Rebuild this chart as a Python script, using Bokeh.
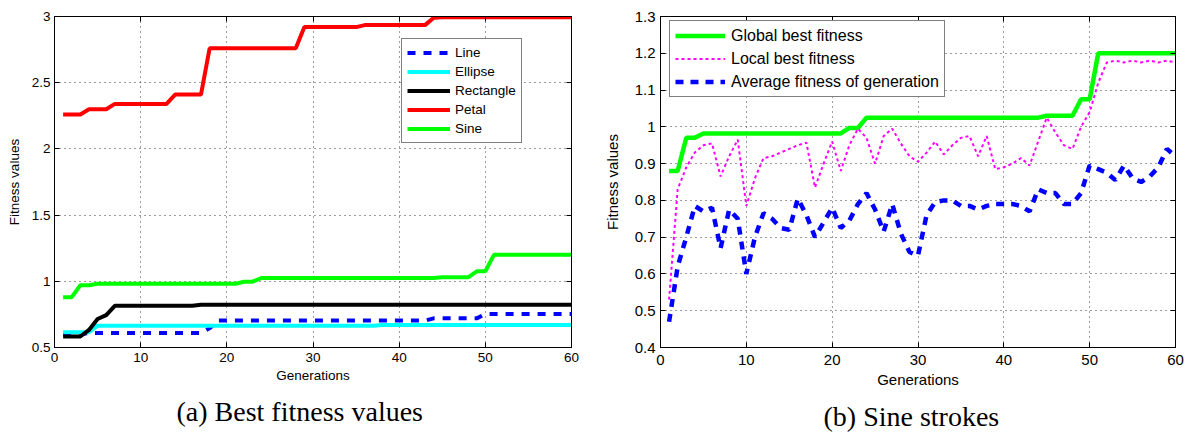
from bokeh.plotting import figure
from bokeh.models import Range1d, FixedTicker, LinearAxis, Title, CustomJSTickFormatter
from bokeh.layouts import row
from bokeh.embed import file_html
from bokeh.resources import INLINE

# ---------------- data ----------------
generations = list(range(1, 61))

x_ticks = [0, 10, 20, 30, 40, 50, 60]
x_labels = ["0", "10", "20", "30", "40", "50", "60"]

left_y_ticks = [0.5, 1, 1.5, 2, 2.5, 3]
left_y_labels = ["0.5", "1", "1.5", "2", "2.5", "3"]

right_y_ticks = [0.4, 0.5, 0.6, 0.7, 0.8, 0.9, 1.0, 1.1, 1.2, 1.3]
right_y_labels = ["0.4", "0.5", "0.6", "0.7", "0.8", "0.9", "1", "1.1", "1.2", "1.3"]

captions = ["(a) Best fitness values", "(b) Sine strokes"]

line_fit = [0.60, 0.60, 0.60, 0.61, 0.61, 0.61, 0.61, 0.61, 0.61, 0.61,
            0.61, 0.61, 0.61, 0.61, 0.61, 0.61, 0.61, 0.645, 0.703, 0.703,
            0.703, 0.703, 0.703, 0.703, 0.703, 0.703, 0.703, 0.703, 0.703, 0.703,
            0.703, 0.703, 0.703, 0.703, 0.703, 0.703, 0.703, 0.703, 0.703, 0.703,
            0.703, 0.703, 0.703, 0.72, 0.72, 0.72, 0.72, 0.72, 0.72, 0.753,
            0.753, 0.753, 0.753, 0.753, 0.753, 0.753, 0.753, 0.753, 0.753, 0.753]

ellipse_fit = [0.615, 0.615, 0.615, 0.615, 0.665, 0.665, 0.665, 0.665, 0.665, 0.665,
               0.665, 0.665, 0.665, 0.665, 0.665, 0.665, 0.665, 0.665, 0.665, 0.665,
               0.665, 0.665, 0.665, 0.665, 0.665, 0.665, 0.665, 0.665, 0.665, 0.665,
               0.665, 0.665, 0.665, 0.665, 0.665, 0.665, 0.665, 0.67, 0.67, 0.67,
               0.67, 0.67, 0.67, 0.67, 0.67, 0.67, 0.67, 0.67, 0.67, 0.67,
               0.67, 0.67, 0.67, 0.67, 0.67, 0.67, 0.67, 0.67, 0.67, 0.67]

rectangle_fit = [0.583, 0.583, 0.583, 0.633, 0.715, 0.745, 0.815, 0.815, 0.815, 0.815,
                 0.815, 0.815, 0.815, 0.815, 0.815, 0.815, 0.823, 0.823, 0.823, 0.823,
                 0.823, 0.823, 0.823, 0.823, 0.823, 0.823, 0.823, 0.823, 0.823, 0.823,
                 0.823, 0.823, 0.823, 0.823, 0.823, 0.823, 0.823, 0.823, 0.823, 0.823,
                 0.823, 0.823, 0.823, 0.823, 0.823, 0.823, 0.823, 0.823, 0.823, 0.823,
                 0.823, 0.823, 0.823, 0.823, 0.823, 0.823, 0.823, 0.823, 0.823, 0.823]

petal_fit = [2.26, 2.26, 2.26, 2.30, 2.30, 2.30, 2.34, 2.34, 2.34, 2.34,
             2.34, 2.34, 2.34, 2.41, 2.41, 2.41, 2.41, 2.76, 2.76, 2.76,
             2.76, 2.76, 2.76, 2.76, 2.76, 2.76, 2.76, 2.76, 2.92, 2.92,
             2.92, 2.92, 2.92, 2.92, 2.92, 2.935, 2.935, 2.935, 2.935, 2.935,
             2.935, 2.935, 2.935, 2.99, 2.995, 2.995, 2.995, 2.995, 2.995, 2.995,
             2.995, 2.995, 2.995, 2.995, 2.995, 2.995, 2.995, 2.995, 2.995, 2.995]

sine_fit = [0.88, 0.88, 0.97, 0.97, 0.982, 0.982, 0.982, 0.982, 0.982, 0.982,
            0.982, 0.982, 0.982, 0.982, 0.982, 0.982, 0.982, 0.982, 0.982, 0.982,
            0.982, 0.997, 0.997, 1.025, 1.025, 1.025, 1.025, 1.025, 1.025, 1.025,
            1.025, 1.025, 1.025, 1.025, 1.025, 1.025, 1.025, 1.025, 1.025, 1.025,
            1.025, 1.025, 1.025, 1.025, 1.03, 1.03, 1.03, 1.03, 1.075, 1.075,
            1.20, 1.20, 1.20, 1.20, 1.20, 1.20, 1.20, 1.20, 1.20, 1.20]

global_best = sine_fit

local_best = [0.53, 0.83, 0.89, 0.93, 0.95, 0.955, 0.865, 0.92, 0.965, 0.785,
              0.86, 0.915, 0.92, 0.93, 0.94, 0.95, 0.957, 0.835, 0.90, 0.96,
              0.88, 0.95, 0.995, 0.97, 0.90, 0.975, 0.995, 0.955, 0.92, 0.905,
              0.93, 0.96, 0.925, 0.95, 0.97, 0.975, 0.92, 0.975, 0.885, 0.89,
              0.90, 0.915, 0.895, 0.96, 1.025, 0.985, 0.95, 0.94, 1.0, 1.04,
              1.12, 1.175, 1.18, 1.175, 1.18, 1.175, 1.18, 1.175, 1.18, 1.175]

avg_fitness = [0.47, 0.62, 0.70, 0.785, 0.77, 0.78, 0.67, 0.775, 0.75, 0.60,
               0.70, 0.765, 0.75, 0.725, 0.72, 0.805, 0.76, 0.70, 0.74, 0.78,
               0.725, 0.745, 0.79, 0.82, 0.775, 0.715, 0.79, 0.71, 0.66, 0.65,
               0.76, 0.795, 0.80, 0.80, 0.785, 0.785, 0.775, 0.785, 0.79, 0.79,
               0.79, 0.785, 0.77, 0.83, 0.82, 0.82, 0.79, 0.79, 0.82, 0.895,
               0.885, 0.875, 0.855, 0.895, 0.86, 0.85, 0.865, 0.89, 0.94, 0.92]

SANS = "Liberation Sans"
SERIF = "Liberation Serif"


def style(p, yticks, ylabels, tick_fs, lab_fs):
    xt = FixedTicker(ticks=x_ticks)
    yt = FixedTicker(ticks=yticks)
    p.xaxis.ticker = xt
    p.yaxis.ticker = yt
    p.xaxis.major_label_overrides = dict(zip(x_ticks, x_labels))
    p.yaxis.major_label_overrides = dict(zip(yticks, ylabels))
    for ax in (p.xaxis[0], p.yaxis[0]):
        ax.major_tick_in = 5
        ax.major_tick_out = 0
        ax.minor_tick_line_color = None
        ax.major_label_text_font = SANS
        ax.major_label_text_font_size = tick_fs
        ax.major_label_text_color = "black"
        ax.axis_label_text_font = SANS
        ax.axis_label_text_font_size = lab_fs
        ax.axis_label_text_font_style = "normal"
        ax.axis_label_text_color = "black"
        ax.axis_line_color = "black"
        ax.major_tick_line_color = "black"
    for loc, t in (("above", xt), ("right", yt)):
        ax = LinearAxis(ticker=t, formatter=CustomJSTickFormatter(code="return ''"),
                        major_tick_in=5, major_tick_out=0, minor_tick_line_color=None,
                        major_label_standoff=0, major_label_text_font_size="1px",
                        axis_line_color="black", major_tick_line_color="black")
        p.add_layout(ax, loc)
    for g, t in ((p.xgrid, xt), (p.ygrid, yt)):
        g.ticker = t
        g.grid_line_color = "#3a3a3a"
        g.grid_line_dash = "1 4"
        g.grid_line_width = 1
    p.outline_line_color = "black"
    p.outline_line_width = 1
    p.background_fill_color = "white"
    p.border_fill_color = "white"


def caption(p, text, offset):
    p.add_layout(Title(text=text, align="left", offset=offset, standoff=16,
                       text_font=SERIF, text_font_size="28px", text_font_style="normal",
                       text_color="black"), "below")


# ---------------- left plot ----------------
p1 = figure(width=600, height=439, output_backend="svg", toolbar_location=None,
            x_range=Range1d(0, 60), y_range=Range1d(0.5, 3),
            min_border_left=54, min_border_right=29, min_border_top=14, min_border_bottom=92,
            x_axis_label="Generations", y_axis_label="Fitness values")
style(p1, left_y_ticks, left_y_labels, "13.5px", "13.5px")
p1.xaxis.major_label_standoff = 5
p1.xaxis.axis_label_standoff = 3
p1.yaxis.major_label_standoff = 4
p1.yaxis.axis_label_standoff = 7

p1.line(generations, line_fit, line_color="#0000ff", line_width=4, line_dash="8 8", legend_label="Line")
p1.line(generations, ellipse_fit, line_color="#00ffff", line_width=4, legend_label="Ellipse")
p1.line(generations, rectangle_fit, line_color="black", line_width=4, legend_label="Rectangle")
p1.line(generations, petal_fit, line_color="#ff0000", line_width=4, legend_label="Petal")
p1.line(generations, sine_fit, line_color="#00ff00", line_width=4, legend_label="Sine")

lg = p1.legend[0]
lg.location = (347, 204)
lg.border_line_color = "black"
lg.border_line_width = 1
lg.background_fill_color = "white"
lg.background_fill_alpha = 1
lg.label_text_font = SANS
lg.label_text_font_size = "13.5px"
lg.label_text_color = "black"
lg.glyph_width = 43
lg.glyph_height = 17
lg.label_height = 17
lg.label_standoff = 5
lg.spacing = 2
lg.padding = 5
lg.margin = 0

caption(p1, captions[0], 122)

# ---------------- right plot ----------------
p2 = figure(width=592, height=439, output_backend="svg", toolbar_location=None,
            x_range=Range1d(0, 60), y_range=Range1d(0.4, 1.3),
            min_border_left=58, min_border_right=17, min_border_top=16, min_border_bottom=91,
            x_axis_label="Generations", y_axis_label="Fitness values")
style(p2, right_y_ticks, right_y_labels, "15px", "15px")
p2.xaxis.major_label_standoff = 7
p2.xaxis.axis_label_standoff = 3
p2.yaxis.major_label_standoff = 5
p2.yaxis.axis_label_standoff = 11

p2.line(generations, global_best, line_color="#00ff00", line_width=4.5, legend_label="Global best fitness")
p2.line(generations, local_best, line_color="#ff00ff", line_width=2, line_dash="3 3",
        legend_label="Local best fitness")
p2.line(generations, avg_fitness, line_color="#0000ff", line_width=4.5, line_dash="8 7",
        legend_label="Average fitness of generation")

lg2 = p2.legend[0]
lg2.location = (9, 250)
lg2.border_line_color = "black"
lg2.border_line_width = 1
lg2.background_fill_color = "white"
lg2.background_fill_alpha = 1
lg2.label_text_font = SANS
lg2.label_text_font_size = "16px"
lg2.label_text_color = "black"
lg2.glyph_width = 50
lg2.glyph_height = 19
lg2.label_height = 19
lg2.label_standoff = 6
lg2.spacing = 4
lg2.padding = 5
lg2.margin = 0

caption(p2, captions[1], 163)

layout = row(p1, p2)
open("out.html", "w").write(file_html(layout, INLINE))
